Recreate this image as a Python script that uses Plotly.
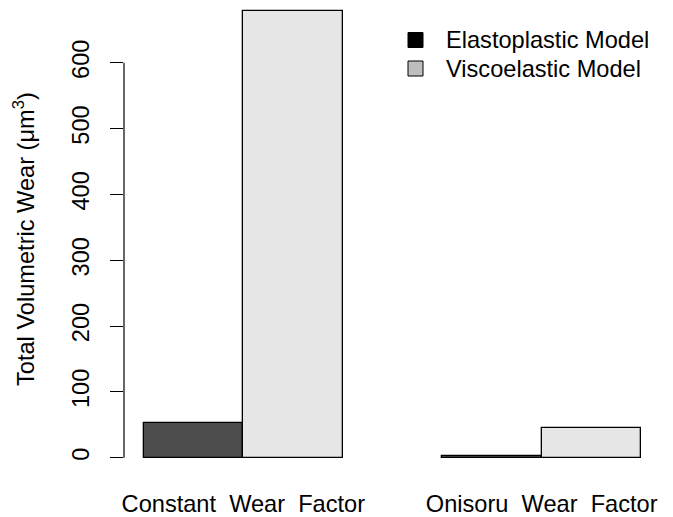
import plotly.graph_objects as go

# Total volumetric wear per wear law and material model
groups = ["Constant\u00a0 Wear\u00a0 Factor", "Onisoru\u00a0 Wear\u00a0 Factor"]
series_names = ["Elastoplastic Model", "Viscoelastic Model"]
elastoplastic = [53, 2.5]
viscoelastic = [678, 45]
bar_colors = ["#4d4d4d", "#e6e6e6"]
legend_colors = ["#000000", "#bebebe"]
y_ticks = [0, 100, 200, 300, 400, 500, 600]

W, H = 673, 517
ML, MR, MT, MB = 124, 12, 0, 41
PW, PH = W - ML - MR, H - MT - MB
FONT = "Liberation Sans, Arial, Helvetica, sans-serif"
FS = 23.6


def px(x):
    return (x - ML) / PW


def py(y):
    return (H - MB - y) / PH


# bar positions: groups of two adjacent bars, one bar-width gap between groups
centers = [[1.5, 4.5], [2.5, 5.5]]
group_centers = [2.0, 5.0]

fig = go.Figure()
for name, vals, xs, col in zip(series_names, [elastoplastic, viscoelastic], centers, bar_colors):
    fig.add_trace(go.Bar(
        x=xs, y=vals, width=1.0, name=name,
        marker=dict(color=col, line=dict(color="black", width=1.3)),
        showlegend=False,
    ))

shapes = [
    # y axis line spanning the tick range only
    dict(type="line", xref="paper", yref="y", x0=0, x1=0, y0=y_ticks[0], y1=y_ticks[-1],
         line=dict(color="black", width=1.2)),
]
annotations = [
    dict(text="Total Volumetric Wear (μm<sup>3</sup>)", xref="paper", yref="paper",
         x=px(24), y=py(239), textangle=-90, showarrow=False,
         xanchor="center", yanchor="middle", font=dict(size=FS, color="black", family=FONT)),
]

# legend
rows = [40, 68.5]
for name, col, yc in zip(series_names, legend_colors, rows):
    shapes.append(dict(type="rect", xref="paper", yref="paper",
                       x0=px(408), x1=px(423), y0=py(yc - 7.5), y1=py(yc + 7.5),
                       fillcolor=col, line=dict(color="black", width=1)))
    annotations.append(dict(text=name, xref="paper", yref="paper", x=px(444), y=py(yc),
                            xanchor="left", yanchor="middle", showarrow=False,
                            font=dict(size=FS, color="black", family=FONT)))

fig.update_layout(
    width=W, height=H,
    margin=dict(l=ML, r=MR, t=MT, b=MB, pad=0),
    paper_bgcolor="white", plot_bgcolor="white",
    barmode="overlay", bargap=0,
    font=dict(family=FONT, size=FS, color="black"),
    xaxis=dict(range=[0.8, 6.2], tickvals=group_centers, ticktext=groups,
               showgrid=False, zeroline=False, showline=False, ticks="",
               ticklabelstandoff=11, tickfont=dict(size=FS)),
    yaxis=dict(range=[-27.8, 695.3], tickvals=y_ticks, showgrid=False, zeroline=False,
               showline=False, ticks="outside", ticklen=13, tickwidth=1.2, tickcolor="black",
               tickangle=-90, ticklabelstandoff=12, tickfont=dict(size=FS)),
    shapes=shapes,
    annotations=annotations,
)

fig.write_html("out.html")
